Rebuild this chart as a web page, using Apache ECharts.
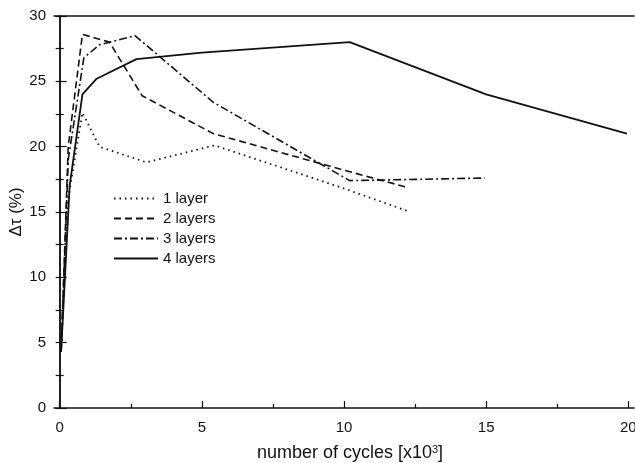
<!DOCTYPE html>
<html>
<head>
<meta charset="utf-8">
<script src="https://cdn.jsdelivr.net/npm/echarts@6/dist/echarts.min.js"></script>
<style>
  html, body { margin: 0; padding: 0; background: #fff; }
  #chart { width: 635px; height: 463px; }
</style>
</head>
<body>
<div id="chart"></div>
<script>
// values: [cycles x10^3, delta tau %]
var layer1 = [[0.05, 4.3], [0.3, 16], [0.8, 22.6], [1.4, 20.0], [3.05, 18.8], [5.45, 20.1], [10.0, 16.8], [12.2, 15.1]];
var layer2 = [[0.05, 4.3], [0.3, 20], [0.8, 28.6], [1.75, 28.0], [2.9, 23.9], [5.4, 21.0], [10.0, 18.2], [12.2, 16.9]];
var layer3 = [[0.05, 4.3], [0.3, 19], [0.85, 26.8], [1.4, 27.8], [2.65, 28.5], [5.4, 23.4], [10.2, 17.4], [14.95, 17.6]];
var layer4 = [[0.05, 4.3], [0.35, 17], [0.8, 24.0], [1.3, 25.2], [2.7, 26.7], [5.0, 27.2], [10.2, 28.0], [15.0, 24.0], [19.95, 21.0]];
var seriesNames = ['1 layer', '2 layers', '3 layers', '4 layers'];
var xMajor = [0, 5, 10, 15, 20];
var xMinor = [2.5, 7.5, 12.5, 17.5];

var chart = echarts.init(document.getElementById('chart'));
var ink = '#111';
var font = 'Liberation Sans, Arial, sans-serif';

function mk(name, data, type, width) {
    return {
        name: name,
        type: 'line',
        data: data,
        symbol: 'none',
        smooth: false,
        lineStyle: { color: ink, width: width, type: type },
        itemStyle: { color: ink }
    };
}

var option = {
    animation: false,
    backgroundColor: '#fff',
    grid: { left: 54, right: 1, top: 16, bottom: 55, containLabel: false, outerBoundsMode: 'none' },
    legend: {
        orient: 'vertical',
        left: 108,
        top: 186,
        itemWidth: 44,
        itemHeight: 14,
        itemGap: 5,
        itemStyle: { opacity: 0 },
        textStyle: { color: ink, fontSize: 15, fontFamily: font },
        data: seriesNames
    },
    xAxis: [{
        type: 'value', position: 'bottom', min: -0.2, max: 20.2,
        axisLine: { lineStyle: { color: ink, width: 1.5 } },
        axisTick: { inside: true, length: 7, customValues: xMajor, lineStyle: { color: ink, width: 1.2 } },
        axisLabel: { customValues: xMajor, color: ink, fontSize: 15, fontFamily: font, margin: 12 },
        splitLine: { show: false },
        name: 'number of cycles [x10{sup|3}]',
        nameLocation: 'middle',
        nameGap: 36,
        nameTextStyle: {
            color: ink, fontSize: 18, fontFamily: font, padding: [0, 0, 0, 12],
            rich: { sup: { fontSize: 11, fontFamily: font, color: ink, verticalAlign: 'top', padding: [0, 0, 8, 0] } }
        }
    }, {
        type: 'value', position: 'bottom', min: -0.2, max: 20.2,
        axisLine: { show: false },
        axisTick: { inside: true, length: 4, customValues: xMinor, lineStyle: { color: ink, width: 1.2 } },
        axisLabel: { show: false },
        splitLine: { show: false }
    }, {
        type: 'value', position: 'top', min: -0.2, max: 20.2,
        axisLine: { lineStyle: { color: ink, width: 1.5 } },
        axisTick: { show: false },
        axisLabel: { show: false },
        splitLine: { show: false }
    }],
    yAxis: [{
        type: 'value', position: 'left', min: 0, max: 30, interval: 5,
        axisLine: { show: true, lineStyle: { color: ink, width: 1.5 } },
        axisTick: { show: true, inside: true, length: 7, lineStyle: { color: ink, width: 1.2 } },
        minorTick: { show: true, splitNumber: 2, length: 4, lineStyle: { color: ink, width: 1.2 } },
        axisLabel: { color: ink, fontSize: 15, fontFamily: font, margin: 8 },
        splitLine: { show: false },
        name: 'Δτ (%)',
        nameLocation: 'middle',
        nameRotate: 90,
        nameGap: 29,
        nameMoveOverlap: false,
        nameTextStyle: { color: ink, fontSize: 17, fontFamily: font }
    }, {
        type: 'value', position: 'right', min: 0, max: 30, interval: 2.5,
        axisLine: { show: true, lineStyle: { color: ink, width: 1.5 } },
        axisTick: { show: true, inside: true, length: 4, lineStyle: { color: ink, width: 1.2 } },
        axisLabel: { show: false },
        splitLine: { show: false }
    }],
    series: [
        mk(seriesNames[0], layer1, [1.5, 4], 1.8),
        mk(seriesNames[1], layer2, [7, 4], 1.6),
        mk(seriesNames[2], layer3, [8, 3, 2, 3], 1.6),
        mk(seriesNames[3], layer4, 'solid', 1.8)
    ]
};
chart.setOption(option);
</script>
</body>
</html>
